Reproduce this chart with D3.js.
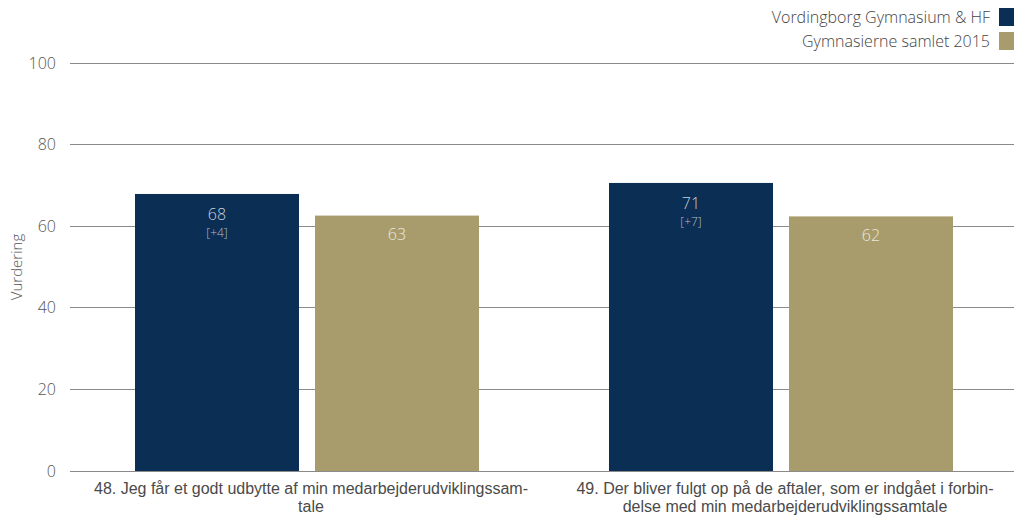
<!DOCTYPE html>
<html><head><meta charset="utf-8">
<script src="https://cdn.jsdelivr.net/npm/d3@7"></script>
<style>
body{margin:0;background:#fff;}
text{font-family:"Open Sans","Liberation Sans",sans-serif;font-weight:300;}
</style></head>
<body><svg id="c" width="1014" height="515"></svg>
<script>
const categories = ["48. Jeg får et godt udbytte af min medarbejderudviklingssam-|tale",
                    "49. Der bliver fulgt op på de aftaler, som er indgået i forbin-|delse med min medarbejderudviklingssamtale"];
const seriesNames = ["Vordingborg Gymnasium & HF", "Gymnasierne samlet 2015"];
const schoolValues = [67.9, 70.6];
const schoolDiffs = ["[+4]", "[+7]"];
const allValues = [62.6, 62.4];
const yTicks = [0, 20, 40, 60, 80, 100];
const colors = ["#0b2e55", "#a89c6c"];

(function(){
const svg = d3.select("#c");
const mL = 70, mR = 1018, mT = 63, mB = 471;
const x0 = d3.scaleBand().domain(categories).range([mL, mR]).paddingInner(0).paddingOuter(0);
const x1 = d3.scaleBand().domain([0,1]).range([65, x0.bandwidth()-65]).paddingInner(16/180);
const y = d3.scaleLinear().domain([0,100]).range([mB, mT]);

svg.append("g").selectAll("line").data(yTicks).join("line")
  .attr("x1", mL).attr("x2", 1014).attr("y1", d=>y(d)).attr("y2", d=>y(d))
  .attr("stroke", "#8a8a8a").attr("stroke-width", 1).attr("shape-rendering","crispEdges");
svg.append("g").selectAll("text").data(yTicks).join("text")
  .attr("x", 56).attr("y", d=>y(d)).attr("dy","0.35em").attr("text-anchor","end")
  .attr("font-size", 16).attr("fill", "#555").text(d=>d);
svg.append("text").attr("transform", `translate(22,${(mT+mB)/2}) rotate(-90)`)
  .attr("text-anchor","middle").attr("font-size",15).attr("fill","#555").text("Vurdering");

const data = categories.map((c,i)=>({c, vals:[schoolValues[i], allValues[i]], diff: schoolDiffs[i]}));
const g = svg.append("g").selectAll("g").data(data).join("g")
  .attr("transform", d=>`translate(${x0(d.c)},0)`);
g.selectAll("rect").data(d=>d.vals.map((v,k)=>({v,k}))).join("rect")
  .attr("x", d=>x1(d.k)).attr("width", x1.bandwidth())
  .attr("y", d=>y(d.v)).attr("height", d=>y(0)-y(d.v))
  .attr("fill", d=>colors[d.k]);
g.append("text").attr("x", x1(0)+x1.bandwidth()/2).attr("y", d=>y(d.vals[0])+20)
  .attr("dy","0.35em").attr("text-anchor","middle").attr("font-size",16).attr("fill","#c9d1dc")
  .text(d=>d3.format(".0f")(d.vals[0]));
g.append("text").attr("x", x1(0)+x1.bandwidth()/2).attr("y", d=>y(d.vals[0])+39)
  .attr("dy","0.35em").attr("text-anchor","middle").attr("font-size",12).attr("fill","#b3bdcc")
  .text(d=>d.diff);
g.append("text").attr("x", x1(1)+x1.bandwidth()/2).attr("y", d=>y(d.vals[1])+19)
  .attr("dy","0.35em").attr("text-anchor","middle").attr("font-size",16).attr("fill","#ece8dc")
  .text(d=>d3.format(".0f")(d.vals[1]));
g.each(function(d){
  const lines = d.c.split("|");
  d3.select(this).selectAll("text.cat").data(lines).join("text").attr("class","cat")
    .attr("x", x0.bandwidth()/2 + 4).attr("y", (l,i)=>494+i*18).attr("text-anchor","middle")
    .attr("font-size",16).attr("fill","#4a4a4a")
    .style("font-family","'Liberation Sans',Arial,sans-serif").style("font-weight","400")
    .text(l=>l);
});
const lg = svg.append("g").selectAll("g").data(seriesNames).join("g")
  .attr("transform",(d,i)=>`translate(0,${8+i*24})`);
lg.append("rect").attr("x",999).attr("y",0).attr("width",15).attr("height",18).attr("fill",(d,i)=>colors[i]);
lg.append("text").attr("x",990).attr("y",9).attr("dy","0.35em").attr("text-anchor","end")
  .attr("font-size",16).attr("fill","#444").text(d=>d);
})();
</script></body></html>
